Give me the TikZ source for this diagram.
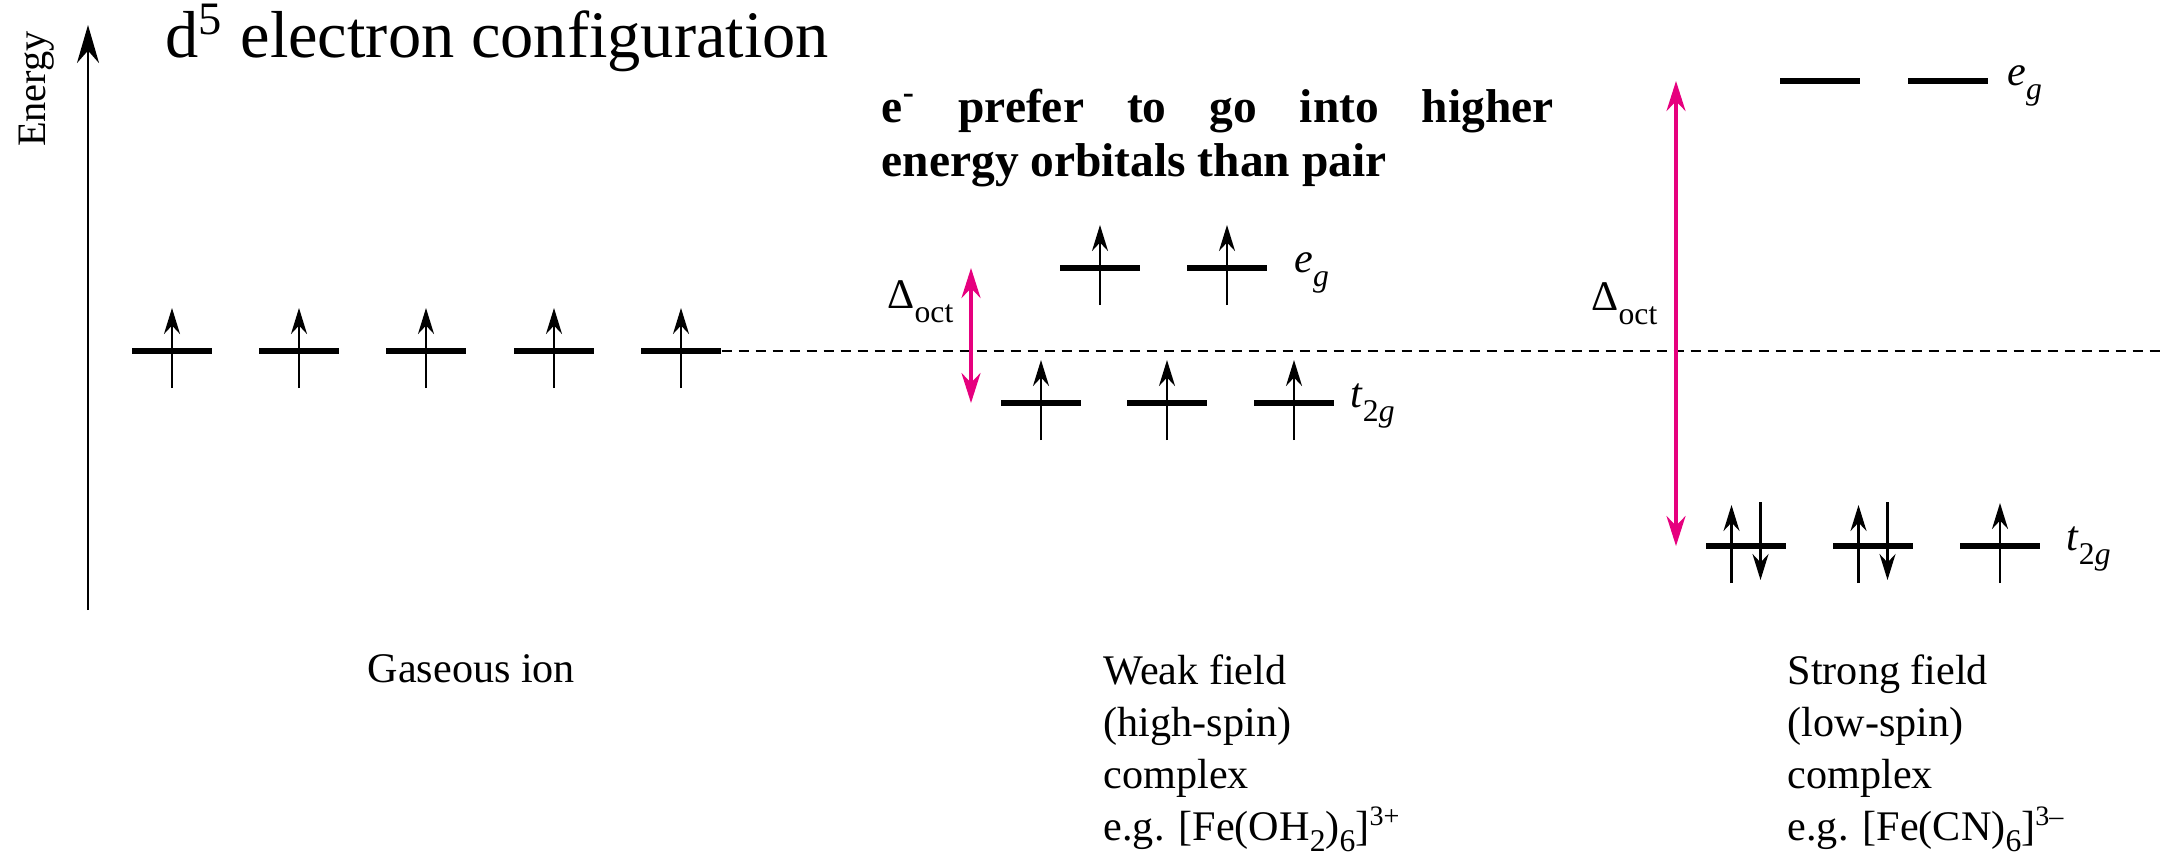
\documentclass[tikz,border=0pt]{standalone}
\usepackage{fontspec}
\setmainfont{Liberation Serif}
\definecolor{deltapink}{HTML}{E6007E}
\usetikzlibrary{arrows.meta}

\newcommand{\lsub}[1]{\raisebox{-4.2pt}{\fontsize{9}{9}\selectfont #1}}
\newcommand{\fsub}[1]{\raisebox{-3.2pt}{\fontsize{9}{9}\selectfont #1}}

\begin{document}
\begin{tikzpicture}[
  orbital/.style={fill=black, inner sep=0pt, minimum width=0.8cm, minimum height=1.7pt},
  spin/.style={line width=0.7pt, -{Stealth[length=2.6mm,width=1.6mm]}},
  deltaarrow/.style={deltapink, line width=0.9pt, {Stealth[length=3mm,width=1.9mm]}-{Stealth[length=3mm,width=1.9mm]}},
  lab/.style={font=\fontsize{12}{14}\selectfont, inner sep=0pt},
  complexlab/.style={font=\fontsize{12}{14.8}\selectfont, align=left, inner sep=0pt, anchor=north west}
]
  \useasboundingbox (0,0) rectangle (21.62,8.56);

  % energy axis and title
  \coordinate (axbot) at (0.88,2.46);
  \coordinate (axtop) at (0.88,8.31);
  \draw[line width=0.8pt, -{Stealth[length=3.8mm,width=2.2mm]}] (axbot) -- (axtop);
  \node[inner sep=0pt, rotate=90, font=\fontsize{11.5}{13}\selectfont] (energy) at (0.37,7.67) {Energy};
  \node[anchor=base west, inner sep=0pt, font=\fontsize{18.9}{22}\selectfont] (title) at (1.65,7.99) {d\textsuperscript{5} electron configuration};

  % gaseous ion
  \foreach \x [count=\i] in {1.72,2.99,4.26,5.54,6.81} {
    \node[orbital] (gas\i) at (\x,5.05) {};
    \draw[spin] ([yshift=-3.7mm]gas\i.center) -- ([yshift=4.3mm]gas\i.center);
  }
  \coordinate (dashend) at (21.62,5.05);
  \draw[line width=0.6pt, dash pattern=on 1mm off 0.7mm] (gas5.east) -- (dashend);

  % weak field
  \foreach \x [count=\i] in {11.00,12.27} {
    \node[orbital] (weg\i) at (\x,5.88) {};
    \draw[spin] ([yshift=-3.7mm]weg\i.center) -- ([yshift=4.3mm]weg\i.center);
  }
  \foreach \x [count=\i] in {10.41,11.67,12.94} {
    \node[orbital] (wt\i) at (\x,4.53) {};
    \draw[spin] ([yshift=-3.7mm]wt\i.center) -- ([yshift=4.3mm]wt\i.center);
  }
  \node[lab, anchor=base west] (weglab) at ([xshift=2.6mm,yshift=-0.4mm]weg2.east) {\textit{e}\lsub{\textit{g}}};
  \node[lab, anchor=base west] (wtlab) at ([xshift=1.5mm,yshift=-0.4mm]wt3.east) {\textit{t}\lsub{2\textit{g}}};
  \coordinate (wtop) at (9.71,5.88);
  \coordinate (wbot) at (9.71,4.53);
  \draw[deltaarrow] (wtop) -- (wbot);
  \node[lab, anchor=base east] (wdelta) at (9.54,5.48) {Δ\lsub{oct}};
  \node[font=\bfseries\fontsize{13.5}{15.6}\selectfont, align=left, inner sep=0pt, anchor=north west] (prefer) at (8.81,7.68)
    {\makebox[6.72cm][s]{e\textsuperscript{-} prefer to go into higher}\\energy orbitals than pair};

  % strong field
  \node[orbital] (seg1) at (18.20,7.75) {};
  \node[orbital] (seg2) at (19.48,7.75) {};
  \foreach \x [count=\i] in {17.46,18.73,20.00} {
    \node[orbital] (st\i) at (\x,3.10) {};
  }
  \foreach \n in {st1,st2} {
    \draw[spin] ([xshift=-1.45mm,yshift=-3.7mm]\n.center) -- ([xshift=-1.45mm,yshift=4.1mm]\n.center);
    \draw[spin] ([xshift=1.45mm,yshift=4.4mm]\n.center) -- ([xshift=1.45mm,yshift=-3.4mm]\n.center);
  }
  \draw[spin] ([yshift=-3.7mm]st3.center) -- ([yshift=4.3mm]st3.center);
  \node[lab, anchor=base west] (seglab) at ([xshift=1.8mm,yshift=-0.4mm]seg2.east) {\textit{e}\lsub{\textit{g}}};
  \node[lab, anchor=base west] (stlab) at ([xshift=2.5mm,yshift=-0.4mm]st3.east) {\textit{t}\lsub{2\textit{g}}};
  \coordinate (stop) at (16.76,7.75);
  \coordinate (sbot) at (16.76,3.10);
  \draw[deltaarrow] (stop) -- (sbot);
  \node[lab, anchor=base east] (sdelta) at (16.58,5.46) {Δ\lsub{oct}};

  % captions
  \node[complexlab] (gasname) at (3.67,2.02) {Gaseous ion};
  \node[complexlab] (weakname) at (11.03,2.02) {Weak field\\(high-spin)\\complex\\e.g. [Fe(OH\fsub{2})\fsub{6}]\textsuperscript{3+}};
  \node[complexlab] (strongname) at (17.87,2.02) {Strong field\\(low-spin)\\complex\\e.g. [Fe(CN)\fsub{6}]\textsuperscript{3–}};
\end{tikzpicture}
\end{document}
